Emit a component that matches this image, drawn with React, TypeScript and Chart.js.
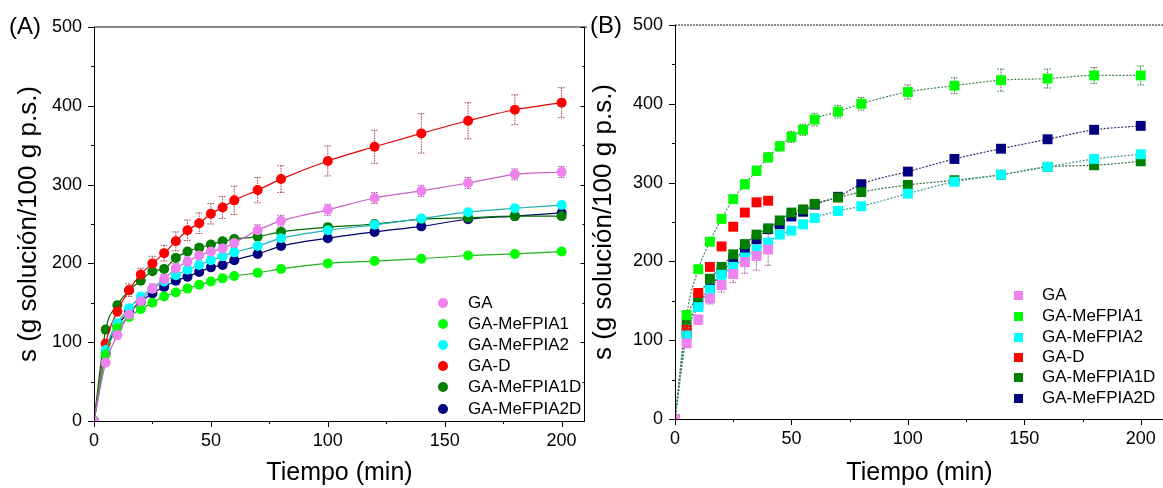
import React, { useEffect, useRef } from 'react';
import { Chart, registerables } from 'chart.js';

Chart.register(...registerables);

const FONT = '"Liberation Sans", Arial, Helvetica, sans-serif';

// ---------- shared data ----------
const timeMin = [0, 5, 10, 15, 20, 25, 30, 35, 40, 45, 50, 55, 60, 70, 80, 100, 120, 140, 160, 180, 200];
const seriesNames = ['GA', 'GA-MeFPIA1', 'GA-MeFPIA2', 'GA-D', 'GA-MeFPIA1D', 'GA-MeFPIA2D'];
const markerColors = ['#EE82EE', '#00FF00', '#00FFFF', '#FF0000', '#007F00', '#000080'];
const lineColorsA = ['#C860C8', '#22B022', '#20B0B0', '#E00000', '#006A00', '#00006A'];
const lineColorsB = ['#B070B0', '#3C8C50', '#3C9C9C', '#E00000', '#2F6F3F', '#303070'];
const errColors = ['#A050A0', '#2E7D32', '#2A8A8A', '#A04848', '#1E5A1E', '#303060'];
const xTickValues = [0, 50, 100, 150, 200];
const yTickValues = [0, 100, 200, 300, 400, 500];

// ---------- panel A (circles) ----------
const gaA = [0, 74, 109, 135, 152, 168, 180, 194, 202, 210, 215, 219, 226, 242, 254, 268, 283, 292, 302, 313, 316];
const mef1A = [0, 84, 118, 132, 142, 150, 158, 163, 168, 173, 177, 181, 184, 188, 193, 200, 203, 206, 210, 212, 215];
const mef2A = [0, 90, 124, 143, 158, 168, 177, 185, 192, 198, 204, 209, 214, 222, 232, 242, 249, 257, 265, 270, 274];
const gadA = [0, 98, 139, 166, 186, 200, 213, 228, 242, 251, 263, 271, 280, 293, 307, 330, 348, 365, 381, 395, 404];
const mef1dA = [0, 116, 147, 166, 178, 190, 193, 207, 215, 220, 224, 228, 231, 234, 240, 246, 250, 256, 258, 260, 260];
const mef2dA = [0, 86, 120, 139, 151, 162, 170, 178, 183, 189, 195, 198, 204, 212, 222, 232, 240, 247, 256, 260, 264];

const gaErrA = [0, 4, 5, 5, 6, 6, 6, 6, 6, 6, 6, 6, 6, 7, 7, 7, 7, 7, 7, 7, 7];
const mef1ErrA = [0, 3, 3, 3, 3, 3, 3, 3, 3, 3, 3, 3, 3, 3, 3, 3, 3, 3, 3, 3, 3];
const mef2ErrA = [0, 4, 4, 4, 4, 4, 4, 4, 4, 4, 4, 4, 4, 4, 4, 4, 4, 4, 4, 4, 4];
const gadErrA = [0, 5, 6, 8, 8, 9, 10, 12, 13, 13, 13, 14, 18, 16, 17, 19, 21, 25, 23, 19, 19];
const mef1dErrA = [0, 4, 4, 4, 4, 4, 4, 4, 4, 4, 4, 4, 4, 4, 4, 4, 4, 4, 4, 4, 4];
const mef2dErrA = [0, 4, 4, 4, 4, 4, 4, 4, 4, 4, 4, 4, 4, 4, 4, 4, 4, 4, 4, 4, 4];

// ---------- panel B (squares) ----------
const gaB = [0, 96, 126, 153, 170, 184, 199, 207, 215];
const mef1B = [0, 132, 190, 225, 254, 279, 298, 315, 332, 346, 358, 367, 380, 390, 400, 415, 423, 430, 432, 436, 436];
const mef2B = [0, 106, 142, 164, 183, 193, 205, 215, 224, 234, 239, 247, 255, 264, 270, 286, 301, 310, 320, 330, 336];
const gadB = [0, 113, 160, 193, 219, 244, 262, 275, 277];
const mef1dB = [0, 123, 155, 178, 193, 209, 222, 234, 242, 252, 262, 266, 273, 281, 288, 297, 303, 310, 320, 322, 327];
const mef2dB = [0, 109, 146, 166, 186, 202, 214, 228, 241, 247, 257, 263, 272, 282, 298, 314, 330, 343, 355, 367, 372];

const gaErrB = [0, 5, 6, 7, 9, 11, 14, 18, 20];
const mef1ErrB = [0, 4, 4, 5, 5, 5, 6, 6, 6, 6, 7, 7, 8, 8, 8, 9, 10, 14, 12, 10, 12];
const mef2ErrB = [0, 3, 3, 3, 3, 3, 3, 3, 3, 3, 3, 3, 3, 3, 3, 3, 3, 3, 3, 3, 3];
const gadErrB = [0, 0, 0, 0, 0, 0, 0, 0, 0];
const mef1dErrB = [0, 4, 4, 4, 4, 4, 4, 4, 4, 4, 4, 4, 4, 4, 4, 5, 5, 5, 5, 5, 5];
const mef2dErrB = [0, 3, 3, 3, 3, 3, 3, 3, 3, 3, 3, 3, 3, 3, 3, 3, 3, 3, 3, 3, 3];

const valuesA = [gaA, mef1A, mef2A, gadA, mef1dA, mef2dA];
const errorsA = [gaErrA, mef1ErrA, mef2ErrA, gadErrA, mef1dErrA, mef2dErrA];
const valuesB = [gaB, mef1B, mef2B, gadB, mef1dB, mef2dB];
const errorsB = [gaErrB, mef1ErrB, mef2ErrB, gadErrB, mef1dErrB, mef2dErrB];
const showLineB = [false, true, true, false, true, true];

// ---------- plugins ----------
const errorBarPlugin = {
  id: 'errorBars',
  beforeDatasetsDraw(chart: any) {
    const { ctx } = chart;
    const y = chart.scales.y;
    chart.data.datasets.forEach((ds: any, i: number) => {
      if (!ds.errors) return;
      const meta = chart.getDatasetMeta(i);
      ctx.save();
      ctx.strokeStyle = ds.errColor;
      ctx.lineWidth = 1;
      ctx.setLineDash([1.5, 1]);
      meta.data.forEach((pt: any, j: number) => {
        const e = ds.errors[j];
        if (!e) return;
        const v = ds.data[j].y;
        const yt = y.getPixelForValue(v + e);
        const yb = y.getPixelForValue(v - e);
        ctx.beginPath();
        ctx.moveTo(pt.x, yt);
        ctx.lineTo(pt.x, yb);
        ctx.moveTo(pt.x - 3.5, yt);
        ctx.lineTo(pt.x + 3.5, yt);
        ctx.moveTo(pt.x - 3.5, yb);
        ctx.lineTo(pt.x + 3.5, yb);
        ctx.stroke();
      });
      ctx.restore();
    });
  },
};

const framePlugin = {
  id: 'frame',
  afterDraw(chart: any, _args: any, opts: any) {
    const { ctx, chartArea } = chart;
    const { left, right, top, bottom } = chartArea;
    const x = chart.scales.x;
    const y = chart.scales.y;
    const seg = (x1: number, y1: number, x2: number, y2: number) => {
      ctx.beginPath();
      ctx.moveTo(x1, y1);
      ctx.lineTo(x2, y2);
      ctx.stroke();
    };
    ctx.save();
    // top axis
    ctx.strokeStyle = opts.topColor || '#888';
    ctx.lineWidth = opts.topWidth || 2;
    ctx.setLineDash(opts.topDash || []);
    seg(left, top, right + 2, top);
    ctx.setLineDash([]);
    ctx.strokeStyle = '#000';
    ctx.lineWidth = 1;
    seg(left + 0.5, top, left + 0.5, bottom + 0.5);
    seg(left, bottom + 0.5, right, bottom + 0.5);
    if (opts.rightAxis) seg(right - 0.5, top, right - 0.5, bottom + 0.5);
    for (let v = 0; v <= 500; v += 50) {
      const py = Math.round(y.getPixelForValue(v)) + 0.5;
      const len = v % 100 === 0 ? 6 : 3;
      seg(left - len, py, left + 0.5, py);
      if (opts.rightAxis) seg(right - 0.5, py, right - 0.5 - (v % 100 === 0 ? 4 : 2), py);
    }
    for (let t = 0; t <= 200; t += 25) {
      const px = Math.round(x.getPixelForValue(t)) + 0.5;
      const len = t % 50 === 0 ? 6 : 3;
      seg(px, bottom, px, bottom + len);
    }
    ctx.restore();
  },
};

type PanelProps = {
  values: number[][];
  errors: number[][];
  lineColors: string[];
  showLine: boolean[];
  pointStyle: string;
  pointRadius: number;
  yWidth: number;
  xHeight: number;
  padTop: number;
  padRight: number;
  titlePad: number;
  rightAxis: boolean;
  topDash: number[];
  dashed: boolean;
};

function Panel(p: PanelProps) {
  const ref = useRef<HTMLCanvasElement | null>(null);
  useEffect(() => {
    if (!ref.current) return;
    const datasets = seriesNames.map((name, i) => {
      const vals = p.values[i];
      const pts = vals.map((v, j) => ({ x: timeMin[j], y: v }));
      return {
        label: name,
        data: pts,
        errors: p.errors[i],
        errColor: errColors[i],
        showLine: p.showLine[i],
        borderColor: p.lineColors[i],
        borderWidth: 1.2,
        borderDash: p.dashed ? [2, 1.5] : [],
        backgroundColor: markerColors[i],
        pointBackgroundColor: markerColors[i],
        pointBorderColor: markerColors[i],
        pointBorderWidth: 0,
        pointStyle: p.pointStyle,
        pointRadius: p.pointRadius,
        cubicInterpolationMode: 'monotone',
        fill: false,
      };
    });
    const chart = new Chart(ref.current, {
      type: 'scatter',
      data: { datasets: datasets as any },
      plugins: [errorBarPlugin, framePlugin],
      options: {
        animation: false,
        responsive: false,
        maintainAspectRatio: false,
        events: [],
        layout: { padding: { top: p.padTop, right: p.padRight, left: 0, bottom: 0 } },
        plugins: {
          legend: { display: false },
          tooltip: { enabled: false },
          frame: { rightAxis: p.rightAxis, topDash: p.topDash, topColor: '#8a8a8a', topWidth: 2 },
        } as any,
        scales: {
          x: {
            type: 'linear',
            min: 0,
            max: 210,
            afterBuildTicks: (s: any) => {
              s.ticks = xTickValues.map((v) => ({ value: v }));
            },
            afterFit: (s: any) => {
              s.height = p.xHeight;
            },
            ticks: { padding: 9, color: '#000', font: { family: FONT, size: 18 } },
            grid: { display: false, drawTicks: false },
            border: { display: false },
            title: {
              display: true,
              text: 'Tiempo (min)',
              color: '#000',
              font: { family: FONT, size: 25 },
              padding: { top: 0, bottom: 0 },
            },
          },
          y: {
            type: 'linear',
            min: 0,
            max: 500,
            afterBuildTicks: (s: any) => {
              s.ticks = yTickValues.map((v) => ({ value: v }));
            },
            afterFit: (s: any) => {
              s.width = p.yWidth;
            },
            ticks: { padding: 12, color: '#000', font: { family: FONT, size: 18 } },
            grid: { display: false, drawTicks: false },
            border: { display: false },
            title: {
              display: true,
              text: 's (g solución/100 g p.s.)',
              color: '#000',
              font: { family: FONT, size: 26 },
              padding: { top: p.titlePad, bottom: 0 },
            },
          },
        },
      } as any,
    });
    return () => chart.destroy();
  }, []);
  return <canvas ref={ref} width={600} height={488} style={{ width: 600, height: 488, display: 'block' }} />;
}

function Legend({ left, textLeft, rows, square }: { left: number; textLeft: number; rows: number[]; square: boolean }) {
  return (
    <>
      {seriesNames.map((name, i) => (
        <React.Fragment key={name}>
          <div
            style={{
              position: 'absolute',
              left: left - (square ? 4.5 : 5),
              top: rows[i] - (square ? 4.5 : 5),
              width: square ? 9 : 10,
              height: square ? 9 : 10,
              borderRadius: square ? 0 : '50%',
              background: markerColors[i],
            }}
          />
          <div
            style={{
              position: 'absolute',
              left: textLeft,
              top: rows[i] - 11,
              height: 22,
              lineHeight: '22px',
              fontFamily: FONT,
              fontSize: 17,
              color: '#000',
              whiteSpace: 'nowrap',
            }}
          >
            {name}
          </div>
        </React.Fragment>
      ))}
    </>
  );
}

export default function App() {
  return (
    <div
      style={{
        position: 'fixed',
        left: 0,
        top: 0,
        width: 1163,
        height: 488,
        overflow: 'hidden',
        background: '#fff',
      }}
    >
      <div style={{ position: 'absolute', left: 0, top: 0 }}>
        <Panel
          values={valuesA}
          errors={errorsA}
          lineColors={lineColorsA}
          showLine={[true, true, true, true, true, true]}
          pointStyle="circle"
          pointRadius={5}
          yWidth={94}
          xHeight={67}
          padTop={27}
          padRight={15}
          titlePad={13}
          rightAxis={true}
          topDash={[]}
          dashed={false}
        />
      </div>
      <div style={{ position: 'absolute', left: 580, top: 0 }}>
        <Panel
          values={valuesB}
          errors={errorsB}
          lineColors={lineColorsB}
          showLine={showLineB}
          pointStyle="rect"
          pointRadius={7}
          yWidth={95}
          xHeight={69}
          padTop={25}
          padRight={16}
          titlePad={8}
          rightAxis={false}
          topDash={[2, 1]}
          dashed={true}
        />
      </div>
      <div style={{ position: 'absolute', left: 9, top: 11, fontFamily: FONT, fontSize: 24, lineHeight: '30px', color: '#000' }}>
        (A)
      </div>
      <div style={{ position: 'absolute', left: 590, top: 10, fontFamily: FONT, fontSize: 24, lineHeight: '30px', color: '#000' }}>
        (B)
      </div>
      <Legend left={443} textLeft={468} rows={[303, 324, 345, 366, 387, 409]} square={false} />
      <Legend left={1018} textLeft={1042} rows={[295, 316, 337, 357, 377, 398]} square={true} />
    </div>
  );
}
